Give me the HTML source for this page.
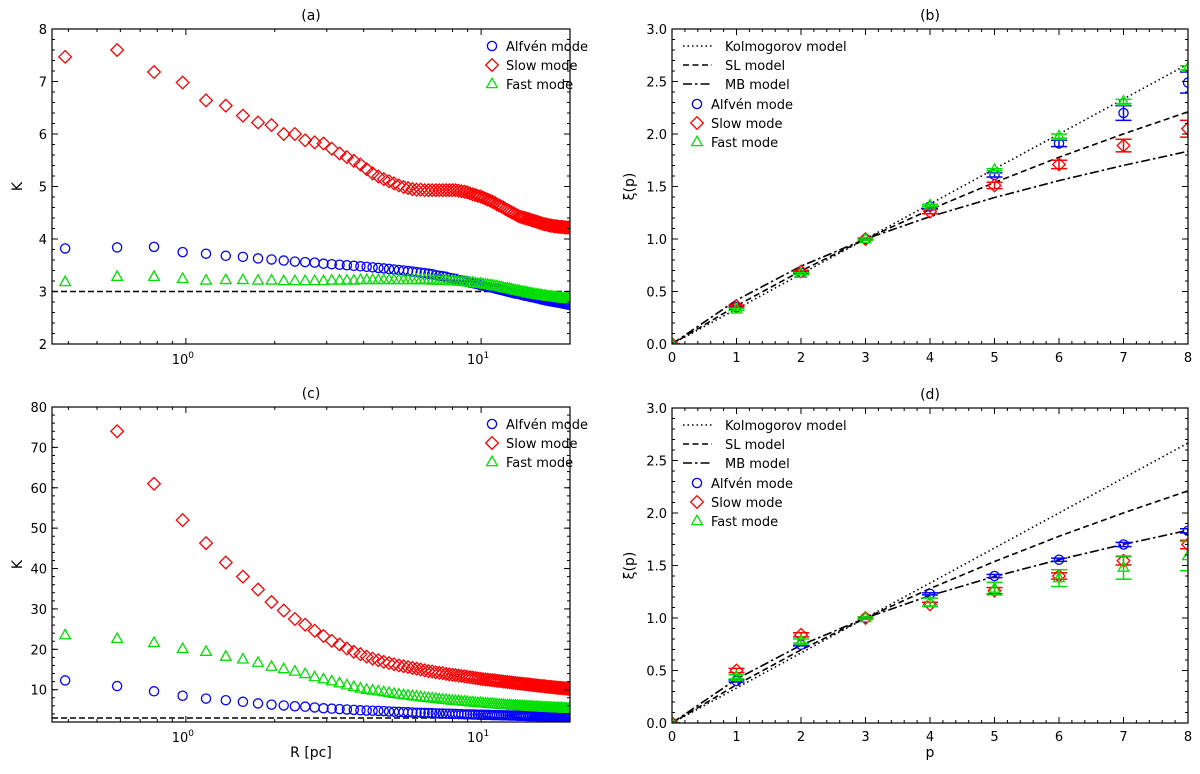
<!DOCTYPE html>
<html><head><meta charset="utf-8"><style>
html,body{margin:0;padding:0;background:#fff;}
svg{display:block;font-family:"DejaVu Sans","Liberation Sans",sans-serif;}
</style></head><body>
<svg id="fig" width="1200" height="774" viewBox="0 0 1200 774" xmlns="http://www.w3.org/2000/svg"></svg>
<script>
// ---------- data: panel (a) / (c) K vs R ----------
const kIndex = [];
for (let k = 2; k <= 102; k++) kIndex.push(k);
const rValues = kIndex.map(k => 0.195 * k);

const aSlow = [7.47,7.6,7.18,6.98,6.64,6.54,6.35,6.22,6.17,6.0,
 6.0,5.88,5.84,5.82,5.72,5.63,5.56,5.49,5.42,5.33,
 5.25,5.19,5.14,5.1,5.06,5.02,4.99,4.97,4.95,4.94,
 4.94,4.93,4.93,4.93,4.93,4.93,4.93,4.93,4.93,4.93,
 4.93,4.92,4.91,4.9,4.89,4.87,4.85,4.84,4.82,4.81,
 4.79,4.77,4.75,4.73,4.71,4.69,4.66,4.64,4.62,4.6,
 4.57,4.55,4.53,4.51,4.49,4.47,4.45,4.43,4.42,4.41,
 4.4,4.39,4.38,4.37,4.36,4.35,4.34,4.33,4.32,4.31,
 4.3,4.29,4.28,4.28,4.27,4.26,4.26,4.25,4.25,4.24,
 4.24,4.24,4.23,4.23,4.23,4.23,4.22,4.22,4.22,4.22,4.22];
const aAlfven = [3.82,3.84,3.85,3.75,3.72,3.68,3.66,3.63,3.61,3.59,
 3.57,3.56,3.55,3.53,3.52,3.51,3.5,3.49,3.48,3.47,
 3.46,3.45,3.44,3.43,3.42,3.41,3.4,3.39,3.38,3.37,
 3.36,3.35,3.34,3.33,3.31,3.3,3.29,3.28,3.26,3.25,
 3.24,3.22,3.21,3.2,3.19,3.17,3.16,3.15,3.14,3.12,
 3.11,3.1,3.09,3.08,3.07,3.06,3.05,3.04,3.03,3.02,
 3.01,3.0,2.99,2.98,2.97,2.96,2.96,2.95,2.94,2.93,
 2.92,2.92,2.91,2.9,2.89,2.89,2.88,2.87,2.87,2.86,
 2.85,2.85,2.84,2.83,2.83,2.82,2.82,2.81,2.81,2.8,
 2.8,2.79,2.79,2.78,2.78,2.77,2.77,2.76,2.76,2.75,2.75];
const aFast = [3.18,3.28,3.28,3.24,3.21,3.22,3.22,3.21,3.21,3.2,
 3.2,3.2,3.2,3.2,3.21,3.21,3.21,3.21,3.22,3.22,
 3.22,3.22,3.22,3.22,3.22,3.22,3.22,3.22,3.22,3.22,
 3.22,3.22,3.22,3.21,3.21,3.21,3.21,3.21,3.2,3.2,
 3.2,3.19,3.19,3.18,3.18,3.17,3.17,3.16,3.15,3.15,
 3.14,3.13,3.13,3.12,3.11,3.1,3.1,3.09,3.08,3.07,
 3.06,3.06,3.05,3.04,3.03,3.02,3.02,3.01,3.0,2.99,
 2.99,2.98,2.97,2.97,2.96,2.95,2.95,2.94,2.94,2.93,
 2.93,2.92,2.92,2.91,2.91,2.9,2.9,2.9,2.89,2.89,
 2.89,2.88,2.88,2.88,2.87,2.87,2.87,2.86,2.86,2.86,2.86];

const cSlow = [95,74,61,52,46.3,41.5,38,34.8,31.7,29.6,
 27.5,26.1,24.6,23.3,22.1,21.2,20.2,19.4,18.8,18.2,
 17.7,17.3,16.9,16.6,16.3,16.0,15.8,15.6,15.4,15.2,
 15.0,14.8,14.6,14.5,14.3,14.2,14.1,13.9,13.8,13.7,
 13.6,13.5,13.4,13.3,13.2,13.1,13.0,12.9,12.8,12.7,
 12.6,12.55,12.5,12.4,12.35,12.3,12.2,12.15,12.1,12.0,
 11.95,11.9,11.85,11.8,11.7,11.65,11.6,11.55,11.5,11.45,
 11.4,11.35,11.3,11.25,11.2,11.15,11.1,11.05,11.0,10.95,
 10.9,10.9,10.85,10.8,10.75,10.7,10.7,10.65,10.6,10.55,
 10.55,10.5,10.45,10.45,10.4,10.35,10.35,10.3,10.3,10.25,10.2];
const cAlfven = [12.3,10.9,9.6,8.5,7.8,7.4,7.0,6.6,6.3,6.1,
 5.9,5.8,5.6,5.4,5.3,5.2,5.1,5.0,4.9,4.85,
 4.8,4.75,4.7,4.6,4.55,4.5,4.45,4.4,4.35,4.3,
 4.3,4.25,4.2,4.2,4.15,4.1,4.1,4.05,4.05,4.0,
 4.0,3.95,3.95,3.9,3.9,3.9,3.85,3.85,3.8,3.8,
 3.8,3.75,3.75,3.75,3.7,3.7,3.7,3.7,3.65,3.65,
 3.65,3.65,3.6,3.6,3.6,3.6,3.55,3.55,3.55,3.55,
 3.55,3.5,3.5,3.5,3.5,3.5,3.5,3.45,3.45,3.45,
 3.45,3.45,3.45,3.4,3.4,3.4,3.4,3.4,3.4,3.4,
 3.35,3.35,3.35,3.35,3.35,3.35,3.35,3.3,3.3,3.3,3.3];
const cFast = [23.5,22.6,21.6,20.1,19.4,18.2,17.5,16.7,15.7,15.1,
 14.5,13.9,13.1,12.6,12.1,11.6,11.1,10.7,10.3,10.0,
 9.8,9.6,9.4,9.2,9.0,8.85,8.7,8.55,8.4,8.3,
 8.15,8.05,7.95,7.85,7.75,7.65,7.55,7.5,7.4,7.3,
 7.25,7.2,7.1,7.05,7.0,6.9,6.85,6.8,6.75,6.7,
 6.65,6.6,6.55,6.5,6.45,6.4,6.35,6.3,6.3,6.25,
 6.2,6.15,6.15,6.1,6.05,6.05,6.0,5.95,5.95,5.9,
 5.9,5.85,5.85,5.8,5.8,5.75,5.75,5.7,5.7,5.65,
 5.65,5.6,5.6,5.6,5.55,5.55,5.5,5.5,5.5,5.45,
 5.45,5.45,5.4,5.4,5.4,5.35,5.35,5.35,5.3,5.3,5.3];
const kGauss = 3;

// ---------- data: panel (b) / (d) xi(p) ----------
const pValues = [0,1,2,3,4,5,6,7,8];
const kolmogorov = [0,0.333,0.667,1.0,1.333,1.667,2.0,2.333,2.667];
const slModel = [0,0.364,0.696,1.0,1.280,1.538,1.778,2.001,2.211];
const mbModel = [0,0.418,0.741,1.0,1.213,1.395,1.556,1.701,1.835];

const bAlfven = [0,0.35,0.68,1,1.31,1.61,1.91,2.20,2.49];
const bAlfvenErr = [0,0.01,0.01,0.01,0.02,0.02,0.03,0.07,0.1];
const bSlow = [0,0.36,0.69,1,1.26,1.51,1.71,1.89,2.05];
const bSlowErr = [0,0.01,0.01,0.01,0.02,0.03,0.04,0.06,0.08];
const bFast = [0,0.33,0.67,1,1.32,1.66,1.98,2.31,2.63];
const bFastErr = [0,0.01,0.01,0.01,0.01,0.01,0.02,0.02,0.02];

const dAlfven = [0,0.40,0.745,1,1.23,1.40,1.555,1.70,1.83];
const dAlfvenErr = [0,0.01,0.01,0.01,0.01,0.015,0.015,0.02,0.02];
const dSlow = [0,0.50,0.84,1,1.13,1.26,1.40,1.545,1.70];
const dSlowErr = [0,0.02,0.02,0.01,0.02,0.03,0.03,0.04,0.04];
const dFast = [0,0.44,0.78,1,1.15,1.28,1.38,1.48,1.59];
const dFastErr = [0,0.02,0.02,0.01,0.04,0.06,0.08,0.11,0.14];

const aYTicks = [2,3,4,5,6,7,8];
const cYTicks = [10,20,30,40,50,60,70,80];
const xiYTicks = [0,0.5,1.0,1.5,2.0,2.5,3.0];
const pTicks = [0,1,2,3,4,5,6,7,8];

// ---------- drawing ----------
const NS = 'http://www.w3.org/2000/svg';
const svg = document.getElementById('fig');
const BLUE = '#0000ff', RED = '#ff0000', GREEN = '#00e000';

function mk(tag, attrs, parent) {
  const e = document.createElementNS(NS, tag);
  for (const k in attrs) e.setAttribute(k, attrs[k]);
  (parent || svg).appendChild(e);
  return e;
}

function logScale(min, max, p0, p1) {
  const a = Math.log10(min), b = Math.log10(max);
  return v => p0 + (Math.log10(v) - a) / (b - a) * (p1 - p0);
}
function linScale(min, max, p0, p1) {
  return v => p0 + (v - min) / (max - min) * (p1 - p0);
}

function marker(g, shape, x, y, color) {
  let e;
  if (shape === 'circle') {
    e = mk('circle', {cx: x, cy: y, r: 4.6, fill: 'none', stroke: color, 'stroke-width': 1.3}, g);
  } else if (shape === 'diamond') {
    e = mk('polygon', {points: `${x},${y-6.3} ${x+6.3},${y} ${x},${y+6.3} ${x-6.3},${y}`, fill: 'none', stroke: color, 'stroke-width': 1.3}, g);
  } else {
    e = mk('polygon', {points: `${x},${y-5.8} ${x+5.3},${y+3.6} ${x-5.3},${y+3.6}`, fill: 'none', stroke: color, 'stroke-width': 1.3}, g);
  }
  return e;
}

function makePanel(id, box, clipName) {
  const g = mk('g', {});
  
  
  const cp = mk('clipPath', {id: clipName}, g);
  mk('rect', {x: box.x0, y: box.y0, width: box.x1 - box.x0, height: box.y1 - box.y0}, cp);
  const plot = mk('g', {'clip-path': `url(#${clipName})`}, g);
  
  
  return {g, plot};
}

function frame(g, box) {
  const f = mk('rect', {x: box.x0, y: box.y0, width: box.x1 - box.x0, height: box.y1 - box.y0, fill: 'none', stroke: '#000', 'stroke-width': 1.2}, g);
  
  
}

function tickPair(g, box, pos, len, isX) {
  if (isX) {
    mk('line', {x1: pos, x2: pos, y1: box.y1, y2: box.y1 - len, stroke: '#000', 'stroke-width': 1}, g);
    mk('line', {x1: pos, x2: pos, y1: box.y0, y2: box.y0 + len, stroke: '#000', 'stroke-width': 1}, g);
  } else {
    mk('line', {x1: box.x0, x2: box.x0 + len, y1: pos, y2: pos, stroke: '#000', 'stroke-width': 1}, g);
    mk('line', {x1: box.x1, x2: box.x1 - len, y1: pos, y2: pos, stroke: '#000', 'stroke-width': 1}, g);
  }
}

function txt(g, x, y, s, anchor, size) {
  const t = mk('text', {x: x, y: y, 'text-anchor': anchor || 'middle', 'font-size': size || 13, fill: '#000'}, g);
  t.textContent = s;
  return t;
}

function legendMarker(g, shape, color, x, y, label) {
  const lg = mk('g', {}, g);
  
  
  marker(lg, shape, x, y, color);
  txt(lg, x + 14, y + 5, label, 'start', 13);
}
function legendLine(g, dash, x, y, label) {
  const lg = mk('g', {}, g);
  
  
  mk('line', {x1: x, x2: x + 29, y1: y, y2: y, stroke: '#000', 'stroke-width': 1.5, 'stroke-dasharray': dash}, lg);
  txt(lg, x + 42, y + 5, label, 'start', 13);
}

// ---- K panels (a) and (c) ----
function kPanel(id, box, ymin, ymax, yTicks, yMinorStep, alf, slow, fast, title, showXLabel) {
  const P = makePanel(id, box, 'clip-' + id);
  const xs = logScale(0.352, 20, box.x0, box.x1);
  const ys = linScale(ymin, ymax, box.y1, box.y0);
  const ref = mk('line', {x1: box.x0, x2: box.x1, y1: ys(kGauss), y2: ys(kGauss), stroke: '#000', 'stroke-width': 1.5, 'stroke-dasharray': '6,3'}, P.plot);
  
  
  const series = [[slow, 'diamond', RED, 'slow'], [alf, 'circle', BLUE, 'alfven'], [fast, 'triangle', GREEN, 'fast']];
  series.forEach(s => {
    const sg = mk('g', {}, P.plot);
    
    
    s[0].forEach((v, i) => {
      const m = marker(sg, s[1], xs(rValues[i]), ys(v), s[2]);
      
      
    });
  });
  frame(P.g, box);
  const tg = mk('g', {}, P.g);
  
  
  [0.4,0.5,0.6,0.7,0.8,0.9,2,3,4,5,6,7,8,9,20].forEach(v => { if (v <= 20) tickPair(tg, box, xs(v), 3, true); });
  [1, 10].forEach((v, i) => {
    tickPair(tg, box, xs(v), 6, true);
    const t = txt(tg, xs(v) - 3, box.y1 + 20, '10', 'middle', 13);
    const sup = mk('tspan', {dy: -6, 'font-size': 9}, t);
    sup.textContent = String(i);
  });
  const yg = mk('g', {}, P.g);
  
  
  for (let v = ymin; v <= ymax + 1e-9; v += yMinorStep) tickPair(yg, box, ys(v), 3, false);
  yTicks.forEach(v => { tickPair(yg, box, ys(v), 6, false); txt(yg, box.x0 - 5, ys(v) + 5, String(v), 'end', 13); });
  const yl = txt(P.g, 0, 0, 'K', 'middle', 14);
  yl.setAttribute('transform', `translate(${box.x0 - 30},${(box.y0 + box.y1) / 2}) rotate(-90)`);
  
  
  const tt = txt(P.g, (box.x0 + box.x1) / 2, box.y0 - 9, title, 'middle', 14);
  
  
  if (showXLabel) {
    const xl = txt(P.g, (box.x0 + box.x1) / 2, box.y1 + 35, 'R [pc]', 'middle', 14);
    
    
  }
  const lg = mk('g', {}, P.g);
  
  
  legendMarker(lg, 'circle', BLUE, box.x1 - 78, box.y0 + 17, 'Alfvén mode');
  legendMarker(lg, 'diamond', RED, box.x1 - 78, box.y0 + 36, 'Slow mode');
  legendMarker(lg, 'triangle', GREEN, box.x1 - 78, box.y0 + 55, 'Fast mode');
}

// ---- xi panels (b) and (d) ----
function xiPanel(id, box, alf, alfE, slow, slowE, fast, fastE, title, showXLabel) {
  const P = makePanel(id, box, 'clip-' + id);
  const xs = linScale(0, 8, box.x0, box.x1);
  const ys = linScale(0, 3, box.y1, box.y0);
  const models = [[kolmogorov, '1.5,3', 'kolmogorov'], [slModel, '6,3.5', 'sl'], [mbModel, '9,3,2.5,3', 'mb']];
  models.forEach(m => {
    const pts = pValues.map((p, i) => `${xs(p)},${ys(m[0][i])}`).join(' ');
    const l = mk('polyline', {points: pts, fill: 'none', stroke: '#000', 'stroke-width': 1.6, 'stroke-dasharray': m[1]}, P.plot);
    
    
  });
  const series = [[alf, alfE, 'circle', BLUE, 'alfven'], [slow, slowE, 'diamond', RED, 'slow'], [fast, fastE, 'triangle', GREEN, 'fast']];
  series.forEach(s => {
    const sg = mk('g', {}, P.plot);
    
    
    s[0].forEach((v, i) => {
      const x = xs(pValues[i]);
      const yt = ys(v + s[1][i]), yb = ys(v - s[1][i]);
      mk('line', {x1: x, x2: x, y1: yt, y2: yb, stroke: s[3], 'stroke-width': 1.5}, sg);
      mk('line', {x1: x - 8, x2: x + 8, y1: yt, y2: yt, stroke: s[3], 'stroke-width': 1.5}, sg);
      mk('line', {x1: x - 8, x2: x + 8, y1: yb, y2: yb, stroke: s[3], 'stroke-width': 1.5}, sg);
      const m = marker(sg, s[2], x, ys(v), s[3]);
      
      
    });
  });
  frame(P.g, box);
  const tg = mk('g', {}, P.g);
  
  
  for (let v = 0; v <= 8.001; v += 0.2) tickPair(tg, box, xs(v), 3, true);
  pTicks.forEach(v => { tickPair(tg, box, xs(v), 6, true); txt(tg, xs(v), box.y1 + 18, String(v), 'middle', 13); });
  const yg = mk('g', {}, P.g);
  
  
  for (let v = 0; v <= 3.001; v += 0.1) tickPair(yg, box, ys(v), 3, false);
  xiYTicks.forEach(v => { tickPair(yg, box, ys(v), 6, false); txt(yg, box.x0 - 5, ys(v) + 5, v.toFixed(1), 'end', 13); });
  const yl = txt(P.g, 0, 0, 'ξ(p)', 'middle', 14);
  yl.setAttribute('transform', `translate(${box.x0 - 38},${(box.y0 + box.y1) / 2}) rotate(-90)`);
  
  
  const tt = txt(P.g, (box.x0 + box.x1) / 2, box.y0 - 9, title, 'middle', 14);
  
  
  if (showXLabel) {
    const xl = txt(P.g, (box.x0 + box.x1) / 2, box.y1 + 34, 'p', 'middle', 14);
    
    
  }
  const lg = mk('g', {}, P.g);
  
  
  legendLine(lg, '1.5,3', box.x0 + 11, box.y0 + 17, 'Kolmogorov model');
  legendLine(lg, '6,3.5', box.x0 + 11, box.y0 + 36, 'SL model');
  legendLine(lg, '9,3,2.5,3', box.x0 + 11, box.y0 + 55, 'MB model');
  legendMarker(lg, 'circle', BLUE, box.x0 + 25, box.y0 + 75, 'Alfvén mode');
  legendMarker(lg, 'diamond', RED, box.x0 + 25, box.y0 + 94, 'Slow mode');
  legendMarker(lg, 'triangle', GREEN, box.x0 + 25, box.y0 + 113, 'Fast mode');
}

kPanel('a', {x0: 52, x1: 570, y0: 29, y1: 344}, 2, 8, aYTicks, 0.2, aAlfven, aSlow, aFast, '(a)', false);
kPanel('c', {x0: 52, x1: 570, y0: 407, y1: 722}, 2, 80, cYTicks, 2, cAlfven, cSlow, cFast, '(c)', true);
xiPanel('b', {x0: 672, x1: 1188, y0: 29, y1: 344}, bAlfven, bAlfvenErr, bSlow, bSlowErr, bFast, bFastErr, '(b)', false);
xiPanel('d', {x0: 672, x1: 1188, y0: 408, y1: 723}, dAlfven, dAlfvenErr, dSlow, dSlowErr, dFast, dFastErr, '(d)', true);
</script>
</body></html>
